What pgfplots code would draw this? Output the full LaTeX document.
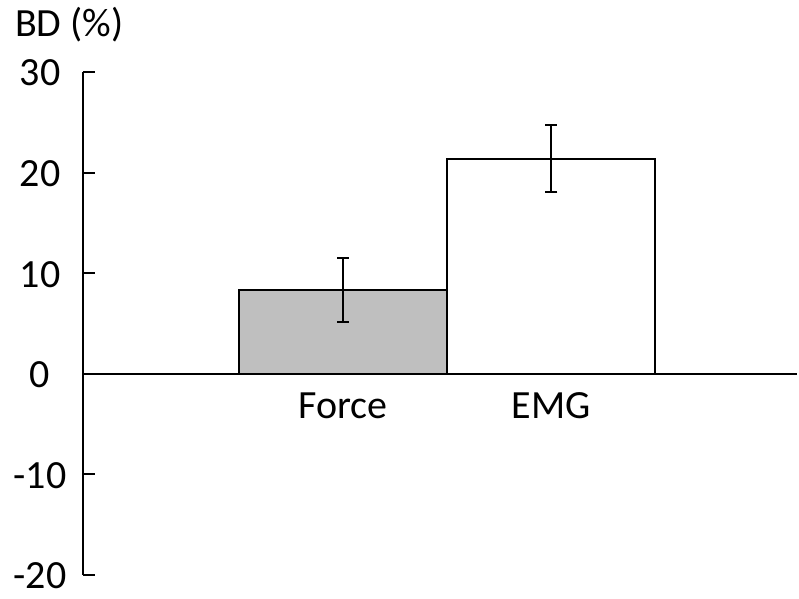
\documentclass[border=0pt]{standalone}
\usepackage{pgfplots}
\pgfplotsset{compat=1.18}
\usepackage{fontspec}
\setmainfont{Carlito}
\begin{document}
\begin{tikzpicture}
\begin{axis}[
  name=ax,
  scale only axis, width=714pt, height=503pt,
  xmin=-1.25, xmax=2.18, ymin=-20, ymax=30,
  axis x line=middle, axis y line=left,
  axis line style={-, line width=2pt},
  ytick={-20,-10,0,10,20,30},
  yticklabels={-20,-10,0,10,20,30},
  tick align=inside, major tick length=12pt,
  y tick style={line width=2pt, black},
  xtick={0,1}, xticklabels={Force,EMG},
  x tick style={draw=none},
  ticklabel style={font=\fontsize{40}{48}\selectfont},
  yticklabel style={anchor=center, inner sep=0pt, xshift=-43pt, yshift=-1pt},
  xticklabel style={anchor=base, inner sep=0pt, yshift=-45pt},
  clip=false,
]
\addplot[ybar, bar width=1, bar shift=0pt, fill=black!25, draw=black, line width=2pt,
  error bars/.cd, y dir=both, y explicit,
  error bar style={line width=2pt, black},
  error mark options={rotate=90, mark size=6pt, line width=2pt, black}]
  coordinates {(0,8.3) +- (0,3.2)};
\addplot[ybar, bar width=1, bar shift=0pt, fill=white, draw=black, line width=2pt,
  error bars/.cd, y dir=both, y explicit,
  error bar style={line width=2pt, black},
  error mark options={rotate=90, mark size=6pt, line width=2pt, black}]
  coordinates {(1,21.4) +- (0,3.35)};
\end{axis}
\node[anchor=base west, inner sep=0pt, font=\fontsize{40}{48}\selectfont] at ([xshift=-68pt, yshift=35pt]ax.north west) {BD (\%)};
\path ([xshift=-83pt, yshift=-24pt]ax.south west) rectangle ([xshift=2pt, yshift=72pt]ax.north east);
\end{tikzpicture}
\end{document}
